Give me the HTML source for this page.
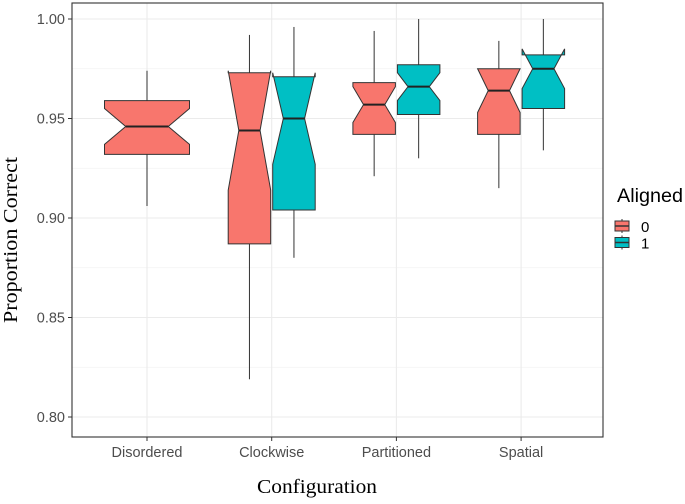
<!DOCTYPE html>
<html><head><meta charset="utf-8"><style>
body{margin:0;background:#fff;}
svg text{font-family:"Liberation Sans",sans-serif;}
</style></head><body>
<svg id="chart" width="685" height="499" xmlns="http://www.w3.org/2000/svg">
<g id="grid"></g><g id="boxes"></g><g id="axes"></g>
<text x="0" y="0" transform="translate(17,240) rotate(-90)" text-anchor="middle" font-size="20" textLength="166" lengthAdjust="spacingAndGlyphs" fill="#000" style="font-family:'Liberation Serif',serif">Proportion Correct</text>
<text x="317" y="493" text-anchor="middle" font-size="20" textLength="120" lengthAdjust="spacingAndGlyphs" fill="#000" style="font-family:'Liberation Serif',serif">Configuration</text>
<g>
<text x="617" y="202" font-size="19" textLength="66" lengthAdjust="spacingAndGlyphs" fill="#000">Aligned</text>
</g>
<g id="legend"></g>
</svg>
<script>
const categories=["Disordered","Clockwise","Partitioned","Spatial"];
const groups=["0","1"];
const colors=["#F8766D","#00BFC4"];
const catIdx=[0,1,1,2,2,3,3];
const grpIdx=[0,0,1,0,1,0,1];
const lows=[0.906,0.819,0.880,0.921,0.930,0.915,0.934];
const q1s=[0.932,0.887,0.904,0.942,0.952,0.942,0.955];
const medians=[0.946,0.944,0.950,0.957,0.966,0.964,0.975];
const q3s=[0.959,0.973,0.971,0.968,0.977,0.975,0.982];
const highs=[0.974,0.992,0.996,0.994,1.0,0.989,1.0];
const notchHalf=[0.009,0.030,0.023,0.009,0.007,0.011,0.010];
const yTicks=[0.80,0.85,0.90,0.95,1.00];
const yTickLabels=["0.80","0.85","0.90","0.95","1.00"];

const NS="http://www.w3.org/2000/svg";
const L=72,R=603,T=3,B=437;
const y=v=>417-(v-0.80)/0.05*99.5;
const xc=i=>147+i*124.7;
function mk(tag,at,parent){const e=document.createElementNS(NS,tag);for(const k in at)e.setAttribute(k,at[k]);parent.appendChild(e);return e;}
const grid=document.getElementById('grid'),boxes=document.getElementById('boxes'),axes=document.getElementById('axes'),leg=document.getElementById('legend');
mk('rect',{x:L,y:T,width:R-L,height:B-T,fill:'#fff'},grid);
for(let i=0;i<yTicks.length-1;i++){const v=(yTicks[i]+yTicks[i+1])/2;const l=mk('line',{x1:L,x2:R,y1:y(v),y2:y(v),stroke:'#f2f2f2','stroke-width':0.7},grid);

}
yTicks.forEach((v,i)=>{const l=mk('line',{x1:L,x2:R,y1:y(v),y2:y(v),stroke:'#ebebeb','stroke-width':1.1},grid);


mk('line',{x1:L-4,x2:L,y1:y(v),y2:y(v),stroke:'#333'},axes);
const t=mk('text',{x:L-7,y:y(v)+5,'text-anchor':'end','font-size':14.5,fill:'#4d4d4d'},axes);t.textContent=yTickLabels[i];

});
categories.forEach((c,i)=>{const l=mk('line',{x1:xc(i),x2:xc(i),y1:T,y2:B,stroke:'#ebebeb','stroke-width':1.1},grid);


mk('line',{x1:xc(i),x2:xc(i),y1:B,y2:B+4,stroke:'#333'},axes);
const t=mk('text',{x:xc(i),y:457,'text-anchor':'middle','font-size':14.5,fill:'#4d4d4d'},axes);t.textContent=c;

});
mk('rect',{x:L,y:T,width:R-L,height:B-T,fill:'none',stroke:'#333','stroke-width':1.1},axes);
const counts=categories.map((_,i)=>catIdx.filter(c=>c===i).length);
catIdx.forEach((ci,k)=>{
  const n=counts[ci];const full=85;let w,cx;
  if(n===1){w=full;cx=xc(ci);}else{w=full/2;cx=xc(ci)+(grpIdx[k]===0?-1:1)*(full/2+2)/2;}
  const l=cx-w/2,r=cx+w/2,ins=w/4;
  const g=mk('g',{},boxes);
  
  
  mk('line',{x1:cx,x2:cx,y1:y(highs[k]),y2:y(q3s[k]),stroke:'#333','stroke-width':1},g);
  mk('line',{x1:cx,x2:cx,y1:y(q1s[k]),y2:y(lows[k]),stroke:'#333','stroke-width':1},g);
  const nu=medians[k]+notchHalf[k],nl=medians[k]-notchHalf[k];
  const pts=[[l,q3s[k]],[l,nu],[l+ins,medians[k]],[l,nl],[l,q1s[k]],[r,q1s[k]],[r,nl],[r-ins,medians[k]],[r,nu],[r,q3s[k]]];
  mk('polygon',{points:pts.map(p=>p[0]+','+y(p[1])).join(' '),fill:colors[grpIdx[k]],stroke:'#333','stroke-width':1},g);
  mk('line',{x1:l+ins,x2:r-ins,y1:y(medians[k]),y2:y(medians[k]),stroke:'#222','stroke-width':2},g);
});
groups.forEach((gname,i)=>{const yy=219+i*16.5;
  const g=mk('g',{},leg);
  
  
  mk('line',{x1:622,x2:622,y1:yy,y2:yy+14,stroke:'#333'},g);
  mk('rect',{x:615,y:yy+2,width:14,height:10,fill:colors[i],stroke:'#333'},g);
  mk('line',{x1:615,x2:629,y1:yy+7,y2:yy+7,stroke:'#333','stroke-width':1.5},g);
  const t=mk('text',{x:641,y:yy+13,'font-size':15,fill:'#000'},g);t.textContent=gname;});
</script>
</body></html>
